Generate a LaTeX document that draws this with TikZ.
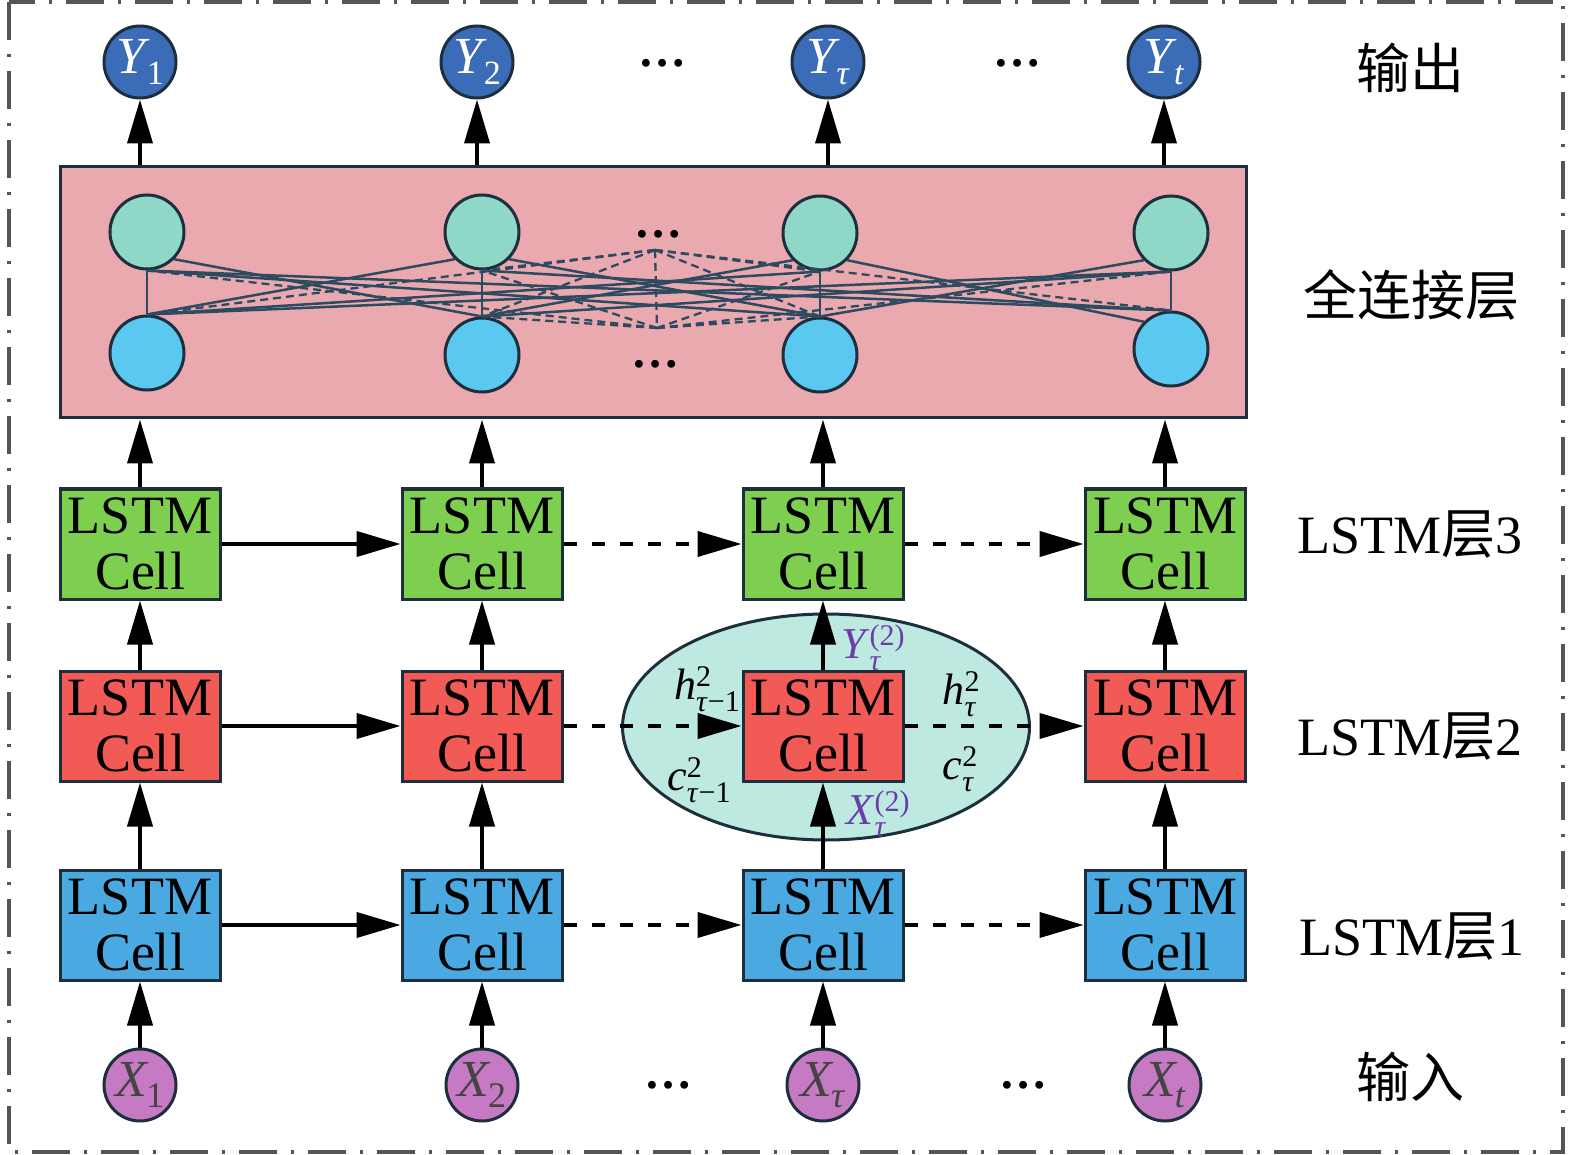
\documentclass[tikz,border=0pt]{standalone}
\usepackage{fontspec}
\setmainfont{Liberation Serif}
\newfontfamily\cjk{Noto Sans CJK SC}
\usetikzlibrary{arrows.meta,shapes.geometric}
\definecolor{cdark}{HTML}{1D2E3D}
\definecolor{cgreen}{HTML}{7ECF50}
\definecolor{cred}{HTML}{F15A55}
\definecolor{cblue}{HTML}{4BA9E1}
\definecolor{cpink}{HTML}{EAA9AF}
\definecolor{cteal}{HTML}{8FD8C8}
\definecolor{ccyan}{HTML}{5BC8F0}
\definecolor{cY}{HTML}{3B6CB7}
\definecolor{cX}{HTML}{C77AC4}
\definecolor{cellip}{HTML}{BEE9E0}
\definecolor{cline}{HTML}{2C4A60}
\definecolor{cpurple}{HTML}{6A3DAA}
\definecolor{cframe}{HTML}{555555}
\definecolor{cgray}{HTML}{444444}
\newcommand\SubSup[3]{#1{\fontsize{30}{30}\selectfont\setbox0=\hbox{\raisebox{-12pt}{#2}}\setbox2=\hbox{\raisebox{13pt}{#3}}\ifdim\wd0>\wd2 \rlap{\box2}\box0\else\rlap{\box0}\box2\fi}}
\newcommand\NodeSub[3]{\textit{#1}\kern-3pt\raisebox{-11pt}{\fontsize{#3}{#3}\selectfont #2}}
\begin{document}
\begin{tikzpicture}[x=1pt,y=-1pt,
  cellbox/.style={draw=cdark, line width=3pt, minimum width=160pt, minimum height=110pt, inner sep=0pt, align=center, font=\fontsize{54}{56}\selectfont},
  arr/.style={line width=4pt, -{Triangle[length=44pt,width=25pt]}},
  darr/.style={arr, dash pattern=on 13pt off 15pt},
  ionode/.style={circle, draw=cdark, line width=3pt, minimum size=72pt, inner sep=0pt, font=\fontsize{52}{52}\selectfont},
  fcn/.style={circle, draw=cdark, line width=3pt, minimum size=74pt, inner sep=0pt},
  fcl/.style={draw=cline, line width=2.5pt},
  fcd/.style={draw=cline, line width=2.3pt, dash pattern=on 8pt off 5pt},
  rlab/.style={inner sep=0pt, font=\fontsize{54}{54}\selectfont},
  elab/.style={inner sep=0pt, font=\fontsize{44}{44}\selectfont},
  dots/.style={inner sep=0pt, font=\fontsize{48}{48}\selectfont\bfseries}]
\useasboundingbox (0,0) rectangle (1575,1155);
\draw[cframe, line width=3.5pt, dash pattern=on 38pt off 14pt on 3pt off 14pt] (9,2) rectangle (1563,1152);

% fully connected box
\node[draw=cdark, line width=3pt, fill=cpink, minimum width=1186pt, minimum height=251pt, inner sep=0pt] (fc) at (653,292.5) {};
\node[fcn, fill=cteal] (t1) at (147,232) {};
\node[fcn, fill=cteal] (t2) at (482,232) {};
\node[fcn, fill=cteal] (t3) at (820,233) {};
\node[fcn, fill=cteal] (t4) at (1171,233) {};
\node[fcn, fill=ccyan] (b1) at (147,353) {};
\node[fcn, fill=ccyan] (b2) at (482,355) {};
\node[fcn, fill=ccyan] (b3) at (820,355) {};
\node[fcn, fill=ccyan] (b4) at (1171,349) {};
\coordinate (mt) at (655,250);
\coordinate (mb) at (657,328);
\node[dots] (fd1) at (658,234) {…};
\node[dots] (fd2) at (655,364) {…};
% solid connections
\draw[fcl] (t1.south) -- (b1.north);
\draw[fcl] (t1.south east) -- (b2.north);
\draw[fcl] (t1.south) -- (b3.north);
\draw[fcl] (t1.south) -- (b4.north);
\draw[fcl] (t2.south west) -- (b1.north);
\draw[fcl] (t2.south) -- (b2.north);
\draw[fcl] (t2.south east) -- (b3.north);
\draw[fcl] (t2.south) -- (b4.north);
\draw[fcl] (t3.south) -- (b1.north);
\draw[fcl] (t3.south west) -- (b2.north);
\draw[fcl] (t3.south) -- (b3.north);
\draw[fcl] (t3.south east) -- (b4.north west);
\draw[fcl] (t4.south) -- (b1.north);
\draw[fcl] (t4.south) -- (b2.north);
\draw[fcl] (t4.south west) -- (b3.north);
\draw[fcl] (t4.south) -- (b4.north);
% dashed connections to hidden nodes
\draw[fcd] (mt) -- (b1.north);
\draw[fcd] (mt) -- (b2.north);
\draw[fcd] (mt) -- (b3.north);
\draw[fcd] (mt) -- (b4.north);
\draw[fcd] (mb) -- (t1.south);
\draw[fcd] (mb) -- (t2.south);
\draw[fcd] (mb) -- (t3.south);
\draw[fcd] (mb) -- (t4.south);
\draw[fcd] (mt) -- (t2.south);
\draw[fcd] (mt) -- (t3.south);
\draw[fcd] (mb) -- (b2.north);
\draw[fcd] (mb) -- (b3.north);
\draw[fcd] (mt) -- (mb);

% outputs
\node[ionode, fill=cY, text=white] (y1) at (140,62) {\NodeSub{Y}{1}{34}};
\node[ionode, fill=cY, text=white] (y2) at (477,62) {\NodeSub{Y}{2}{34}};
\node[ionode, fill=cY, text=white] (y3) at (828,62) {\NodeSub{Y}{\textit{τ}}{34}};
\node[ionode, fill=cY, text=white] (y4) at (1164,62) {\NodeSub{Y}{\textit{t}}{34}};
\node[dots] (od1) at (662,63) {…};
\node[dots] (od2) at (1017,63) {…};
\foreach \k in {1,2,3,4} \draw[arr] (y\k |- fc.north) -- (y\k);

% ellipse around layer-2 cell
\node[ellipse, draw=cdark, line width=3pt, fill=cellip, minimum width=407pt, minimum height=226pt, inner sep=0pt] (el) at (826,727) {};

% LSTM cells
\foreach \k/\x in {1/140,2/482,3/823,4/1165} {
  \node[cellbox, fill=cgreen] (c3\k) at (\x,544) {LSTM\\Cell};
  \node[cellbox, fill=cred] (c2\k) at (\x,726) {LSTM\\Cell};
  \node[cellbox, fill=cblue] (c1\k) at (\x,925) {LSTM\\Cell};
}
% inputs
\node[ionode, fill=cX, text=cgray] (x1) at (140,1085) {\NodeSub{X}{1}{36}};
\node[ionode, fill=cX, text=cgray] (x2) at (482,1085) {\NodeSub{X}{2}{36}};
\node[ionode, fill=cX, text=cgray] (x3) at (823,1085) {\NodeSub{X}{\textit{τ}}{36}};
\node[ionode, fill=cX, text=cgray] (x4) at (1165,1085) {\NodeSub{X}{\textit{t}}{36}};
\node[dots] (id1) at (668,1085) {…};
\node[dots] (id2) at (1023,1085) {…};

% vertical arrows
\foreach \k in {1,2,3,4} {
  \draw[arr] (x\k) -- (c1\k);
  \draw[arr] (c1\k) -- (c2\k);
  \draw[arr] (c2\k) -- (c3\k);
  \draw[arr] (c3\k) -- (c3\k |- fc.south);
}
% horizontal arrows
\foreach \l in {1,2,3} {
  \draw[arr] (c\l1) -- (c\l2);
  \draw[darr] (c\l2) -- (c\l3);
  \draw[darr] (c\l3) -- (c\l4);
}

% ellipse labels
\node[elab] (hp) at (707,689) {\SubSup{\textit{h}}{\textit{τ}−1}{2}};
\node[elab] (cp) at (699,780) {\SubSup{\textit{c}}{\textit{τ}−1}{2}};
\node[elab] (hn) at (961,694) {\SubSup{\textit{h}}{\textit{τ}}{2}};
\node[elab] (cn) at (960,769) {\SubSup{\textit{c}}{\textit{τ}}{2}};
\node[elab, text=cpurple] (yl) at (873,648) {\SubSup{\textit{Y}}{\textit{τ}}{(2)}};
\node[elab, text=cpurple] (xl) at (878,814) {\SubSup{\textit{X}}{\textit{τ}}{(2)}};

% right labels
\node[rlab] (l6) at (1410,68) {\cjk 输出};
\node[rlab] (l5) at (1411,295) {\cjk 全连接层};
\node[rlab] (l4) at (1410,535) {LSTM{\cjk 层}3};
\node[rlab] (l3) at (1410,737) {LSTM{\cjk 层}2};
\node[rlab] (l2) at (1412,937) {LSTM{\cjk 层}1};
\node[rlab] (l1) at (1410,1077) {\cjk 输入};
\end{tikzpicture}
\end{document}
